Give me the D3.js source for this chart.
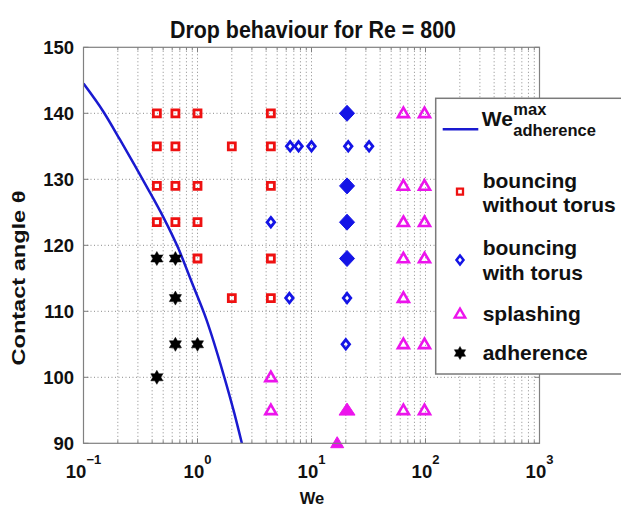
<!DOCTYPE html>
<html lang="en">
<head>
<meta charset="utf-8">
<title>Drop behaviour for Re = 800</title>
<script src="https://d3js.org/d3.v7.min.js"></script>
<style type="text/css">
body { margin: 0; background: #fff; }
text { font-family: "Liberation Sans", Arial, sans-serif; font-weight: bold; fill: #111; }
</style>
</head>
<body>
<div id="my_dataviz"></div>
<script>
// data: [We, contact angle]
var bouncingNoTorus = [
  [0.44, 140], [0.64, 140], [1.0, 140], [4.4, 140],
  [0.44, 135], [0.64, 135], [2.0, 135], [4.4, 135],
  [0.44, 129], [0.64, 129], [1.0, 129], [4.4, 129],
  [0.44, 123.5], [0.64, 123.5], [1.0, 123.5],
  [1.0, 118], [4.4, 118],
  [2.0, 112], [4.4, 112]
];
var bouncingTorus = [
  [6.5, 135], [7.7, 135], [10, 135], [21, 135], [32, 135],
  [4.4, 123.5],
  [6.4, 112], [20.5, 112],
  [20, 105]
];
var bouncingTorusFilled = [[20.5, 140], [20.5, 129], [20.5, 123.5], [20.5, 118]];
var splashing = [
  [64, 140], [98, 140], [64, 129], [98, 129], [64, 123.5], [98, 123.5],
  [64, 118], [98, 118], [64, 112], [64, 105], [98, 105],
  [4.4, 100], [4.4, 95], [64, 95], [98, 95]
];
var splashingFilled = [[20.5, 95], [16.8, 90]];
var adherence = [[0.44, 118], [0.64, 118], [0.64, 112], [0.64, 105], [1.0, 105], [0.44, 100]];

// We_max adherence curve
var weMaxCurve = [
  [0.1, 144.5], [0.15, 140.2], [0.209, 136], [0.28, 132.2], [0.358, 128.9],
  [0.5, 124.3], [0.68, 119.5], [0.9, 114.2], [1.2, 108.7], [1.68, 100.6],
  [2.1, 94.6], [2.45, 90]
];

var xTicks = [-1, 0, 1, 2, 3];
var yTicks = [90, 100, 110, 120, 130, 140, 150];

var W = 621, H = 509;
var margin = {left: 83.5, top: 47.3, right: 81.5, bottom: 65.7};
var width = W - margin.left - margin.right,
    height = H - margin.top - margin.bottom;

var red = "#ee1111", blue = "#1414e6", magenta = "#ec14ec", grey = "#808080";

var svg = d3.select("#my_dataviz")
  .append("svg")
    .attr("width", W)
    .attr("height", H);

var g = svg.append("g")
    .attr("transform", "translate(" + margin.left + "," + margin.top + ")");

var x = d3.scaleLog().domain([0.1, 1000]).range([0, width]);
var y = d3.scaleLinear().domain([90, 150]).range([height, 0]);

// minor positions on the log axis
var logAll = [];
for (var k = -1; k < 3; k++) {
  for (var m = 1; m <= 9; m++) logAll.push(m * Math.pow(10, k));
}
logAll.push(1000);

// dotted grid
g.selectAll(".vgrid")
  .data(logAll.filter(function(d) { return d > 0.1 && d < 1000; }))
  .enter().append("line")
    .attr("x1", function(d) { return x(d); })
    .attr("x2", function(d) { return x(d); })
    .attr("y1", 0).attr("y2", height)
    .attr("stroke", "#8a8a8a").attr("stroke-width", 1)
    .attr("stroke-dasharray", "1,2.5");
g.selectAll(".hgrid")
  .data(yTicks.slice(1, -1))
  .enter().append("line")
    .attr("x1", 0).attr("x2", width)
    .attr("y1", function(d) { return y(d); })
    .attr("y2", function(d) { return y(d); })
    .attr("stroke", "#8a8a8a").attr("stroke-width", 1)
    .attr("stroke-dasharray", "1,2.5");

// inward ticks on all four sides
logAll.forEach(function(d) {
  var major = Math.abs(Math.log10(d) - Math.round(Math.log10(d))) < 1e-9;
  var len = major ? 5 : 3;
  g.append("line").attr("x1", x(d)).attr("x2", x(d)).attr("y1", height).attr("y2", height - len)
    .attr("stroke", grey);
  g.append("line").attr("x1", x(d)).attr("x2", x(d)).attr("y1", 0).attr("y2", len)
    .attr("stroke", grey);
});
yTicks.forEach(function(d) {
  g.append("line").attr("x1", 0).attr("x2", 5).attr("y1", y(d)).attr("y2", y(d)).attr("stroke", grey);
  g.append("line").attr("x1", width).attr("x2", width - 5).attr("y1", y(d)).attr("y2", y(d)).attr("stroke", grey);
});

// clip for the curve
svg.append("clipPath").attr("id", "plotclip")
  .append("rect").attr("width", width).attr("height", height);

var line = d3.line()
  .x(function(d) { return x(d[0]); })
  .y(function(d) { return y(d[1]); })
  .curve(d3.curveMonotoneX);

g.append("path")
  .datum(weMaxCurve)
  .attr("clip-path", "url(#plotclip)")
  .attr("d", line)
  .attr("fill", "none")
  .attr("stroke", "#1a1ad0")
  .attr("stroke-width", 2.5);

// marker shapes
function diamondPath(w, h) {
  return "M0," + (-h / 2) + "L" + (w / 2) + ",0L0," + (h / 2) + "L" + (-w / 2) + ",0Z";
}
function trianglePath(w, h) {
  return "M0," + (-h * 0.6) + "L" + (w / 2) + "," + (h * 0.4) + "L" + (-w / 2) + "," + (h * 0.4) + "Z";
}
function hexagramPath(r) {
  var p = [];
  for (var i = 0; i < 12; i++) {
    var a = -Math.PI / 2 + i * Math.PI / 6;
    var rr = i % 2 === 0 ? r : r / Math.sqrt(3);
    p.push([rr * Math.cos(a), rr * Math.sin(a)]);
  }
  return "M" + p.join("L") + "Z";
}
function squarePath(s) {
  return "M" + (-s / 2) + "," + (-s / 2) + "h" + s + "v" + s + "h" + (-s) + "Z";
}

function drawMarkers(data, d, fill, stroke, sw) {
  g.selectAll(null)
    .data(data)
    .enter().append("path")
      .attr("transform", function(p) { return "translate(" + x(p[0]) + "," + y(p[1]) + ")"; })
      .attr("d", d)
      .attr("fill", fill)
      .attr("stroke", stroke)
      .attr("stroke-width", sw)
      .attr("stroke-linejoin", "miter");
}

drawMarkers(bouncingNoTorus, squarePath(7), "none", red, 2.8);
drawMarkers(bouncingTorus, diamondPath(7.5, 9.5), "none", blue, 2.8);
drawMarkers(bouncingTorusFilled, diamondPath(15, 16), blue, blue, 1);
drawMarkers(splashing, trianglePath(11, 9.5), "none", magenta, 2.6);
drawMarkers(splashingFilled.slice(0, 1), trianglePath(16, 12), magenta, magenta, 1);
drawMarkers(splashingFilled.slice(1), trianglePath(13, 11), magenta, magenta, 1);
drawMarkers(adherence, hexagramPath(7), "#000", "#000", 0.5);

// frame
g.append("rect")
  .attr("width", width).attr("height", height)
  .attr("fill", "none").attr("stroke", grey).attr("stroke-width", 1.2);

// axis labels
yTicks.forEach(function(d) {
  g.append("text")
    .attr("x", -9.5).attr("y", y(d)).attr("dy", "0.36em")
    .attr("text-anchor", "end")
    .style("font-size", "18.5px")
    .text(d);
});
xTicks.forEach(function(k) {
  var t = g.append("text")
    .attr("x", x(Math.pow(10, k))).attr("y", 478 - margin.top)
    .attr("text-anchor", "middle")
    .style("font-size", "18.5px");
  t.append("tspan").text("10");
  t.append("tspan").attr("dy", -14).style("font-size", "13px").text(k < 0 ? "\u2212" + (-k) : k);
});

svg.append("text")
  .attr("x", 313).attr("y", 38)
  .attr("text-anchor", "middle")
  .attr("textLength", 286).attr("lengthAdjust", "spacingAndGlyphs")
  .style("font-size", "23px")
  .text("Drop behaviour for Re = 800");

svg.append("text")
  .attr("x", 312).attr("y", 504)
  .attr("text-anchor", "middle")
  .style("font-size", "16.5px")
  .text("We");

svg.append("text")
  .attr("transform", "translate(25,278) rotate(-90)")
  .attr("text-anchor", "middle")
  .attr("textLength", 175).attr("lengthAdjust", "spacingAndGlyphs")
  .style("font-size", "18px")
  .text("Contact angle \u03b8");

// legend
var lg = svg.append("g");
lg.append("rect")
  .attr("x", 435.7).attr("y", 98.3).attr("width", 200).attr("height", 275.7)
  .attr("fill", "#fff").attr("stroke", "#7a7a7a").attr("stroke-width", 1.5);

lg.append("line")
  .attr("x1", 442.7).attr("x2", 478.3).attr("y1", 129.3).attr("y2", 129.3)
  .attr("stroke", "#1a1ad0").attr("stroke-width", 2.5);
lg.append("text").attr("x", 481.7).attr("y", 125.5).style("font-size", "21px").text("We");
lg.append("text").attr("x", 513.3).attr("y", 115).style("font-size", "16.5px").text("max");
lg.append("text").attr("x", 513.3).attr("y", 136).style("font-size", "16.5px").text("adherence");

function legendMarker(cy, d, fill, stroke, sw) {
  lg.append("path")
    .attr("transform", "translate(460," + cy + ")")
    .attr("d", d).attr("fill", fill).attr("stroke", stroke).attr("stroke-width", sw);
}
legendMarker(191.7, squarePath(6), "none", red, 2.3);
legendMarker(260, diamondPath(7, 9), "none", blue, 2.5);
legendMarker(314, trianglePath(10.5, 9), "none", magenta, 2.4);
legendMarker(353, hexagramPath(6.5), "#000", "#000", 0.5);

var legendText = [
  ["bouncing", 188.3], ["without torus", 211.7],
  ["bouncing", 255], ["with torus", 280],
  ["splashing", 320.7], ["adherence", 360]
];
legendText.forEach(function(d) {
  lg.append("text").attr("x", 482.7).attr("y", d[1]).style("font-size", "21px").text(d[0]);
});
</script>
</body>
</html>
